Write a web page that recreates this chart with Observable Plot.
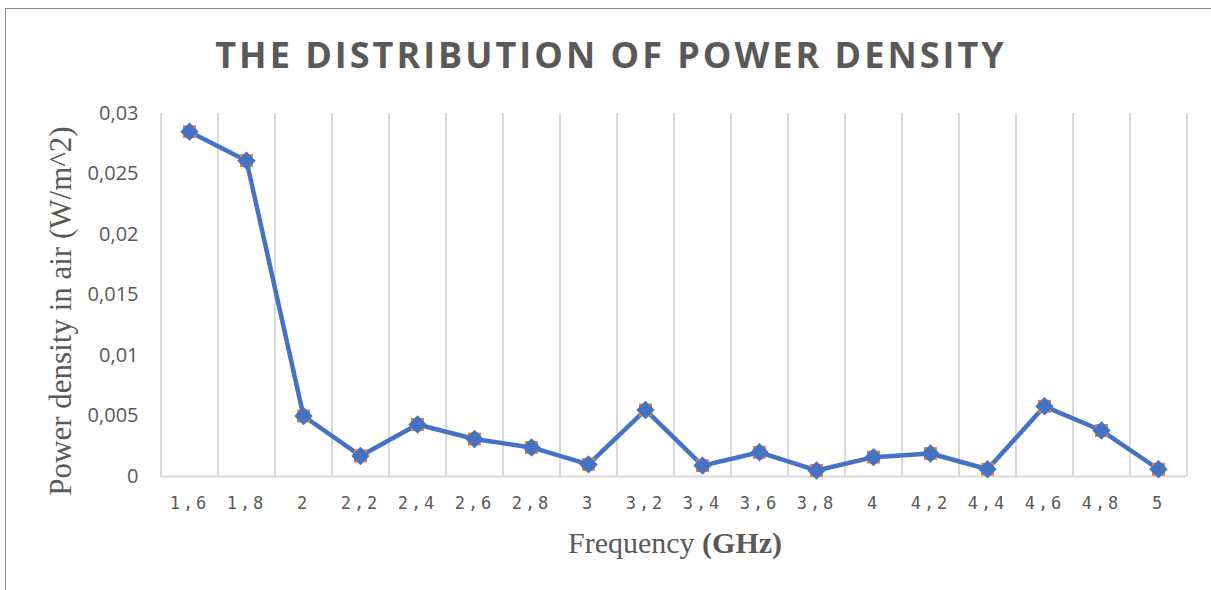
<!DOCTYPE html>
<html>
<head>
<meta charset="utf-8">
<script src="https://cdn.jsdelivr.net/npm/d3@7"></script>
<script src="https://cdn.jsdelivr.net/npm/@observablehq/plot@0.6"></script>
<style>
  html, body { margin: 0; padding: 0; background: #ffffff; }
  #wrap { position: relative; width: 1211px; height: 590px; overflow: hidden; background: #fff; }
  #frame { position: absolute; left: 5px; top: 8px; width: 1400px; height: 800px; border: 1px solid #8c8c8c; box-sizing: border-box; }
  #chart { position: absolute; left: 0; top: 0; }
  #title { position: absolute; left: 0; top: 30px; width: 1222px; text-align: center;
           font-family: "Open Sans", sans-serif; font-weight: 700; font-size: 36px; letter-spacing: 3px;
           color: #595959; white-space: nowrap; line-height: 50px; }
  #ylabel { position: absolute; left: 61px; top: 311px; transform: translate(-50%, -50%) rotate(-90deg);
            font-family: "Liberation Serif", "Times New Roman", serif; font-size: 31px; color: #595959; white-space: nowrap; }
  #xlabel { position: absolute; left: 0; width: 1350px; top: 525px; text-align: center;
            font-family: "Liberation Serif", "Times New Roman", serif; font-size: 30px; color: #595959; white-space: nowrap; line-height: 36px; }
  #chart g[aria-label="x-axis tick label"] text { font-family: "DejaVu Sans Mono", monospace; font-size: 17px; letter-spacing: 3px; }
</style>
</head>
<body>
<div id="wrap">
  <div id="frame"></div>
  <div id="chart"></div>
  <div id="title">THE DISTRIBUTION OF POWER DENSITY</div>
  <div id="ylabel">Power density in air (W/m^2)</div>
  <div id="xlabel">Frequency <b>(GHz)</b></div>
</div>
<script>
// Frequencies (GHz) as shown on the category axis
const frequencies = ["1,6","1,8","2","2,2","2,4","2,6","2,8","3","3,2","3,4","3,6","3,8","4","4,2","4,4","4,6","4,8","5"];
// Power density in air (W/m^2)
const powerDensity = [0.0285, 0.0261, 0.0050, 0.0017, 0.0043, 0.0031, 0.0024, 0.0010, 0.0055, 0.0009, 0.0020, 0.0005, 0.0016, 0.0019, 0.0006, 0.0058, 0.0038, 0.0006];
// Y-axis tick values
const yTicks = [0, 0.005, 0.01, 0.015, 0.02, 0.025, 0.03];

const data = frequencies.map((f, i) => ({f, v: powerDensity[i]}));

const W = 1211, H = 590, mL = 160, mR = 25, mT = 113, mB = 114;
const step = (W - mL - mR) / frequencies.length;
const fmt = d => String(d).replace(".", ",");
const grid = {stroke: "#d9d9d9", strokeWidth: 2, y1: 0, y2: 0.03};

const chart = Plot.plot({
  width: W, height: H,
  marginLeft: mL, marginRight: mR, marginTop: mT, marginBottom: mB,
  style: {background: "transparent", color: "#595959", overflow: "visible"},
  x: {type: "point", domain: frequencies, padding: 0.5},
  y: {domain: [0, 0.03]},
  marks: [
    Plot.ruleX(frequencies, {x: d => d, dx: -step / 2, ...grid}),
    Plot.ruleX([frequencies[frequencies.length - 1]], {x: d => d, dx: step / 2, ...grid}),
    Plot.ruleY([0], {stroke: "#d9d9d9", strokeWidth: 2}),
    Plot.axisY({ticks: yTicks, tickFormat: fmt, tickSize: 0, tickPadding: 22, label: null,
                fontSize: 20, fontFamily: "Open Sans", fill: "#595959"}),
    Plot.axisX({tickSize: 0, tickPadding: 20, label: null,
                fontSize: 17, fontFamily: "DejaVu Sans Mono", fill: "#595959"}),
    Plot.line(data, {x: "f", y: "v", stroke: "#4472C4", strokeWidth: 4.5, strokeLinejoin: "round"}),
    Plot.dot(data, {x: "f", y: "v", symbol: "square", r: 7.3, fill: "#ED7D31", stroke: "none"}),
    Plot.dot(data, {x: "f", y: "v", symbol: "diamond2", r: 8.3, fill: "#4472C4", stroke: "none"})
  ]
});
document.getElementById("chart").appendChild(chart);
</script>
</body>
</html>
